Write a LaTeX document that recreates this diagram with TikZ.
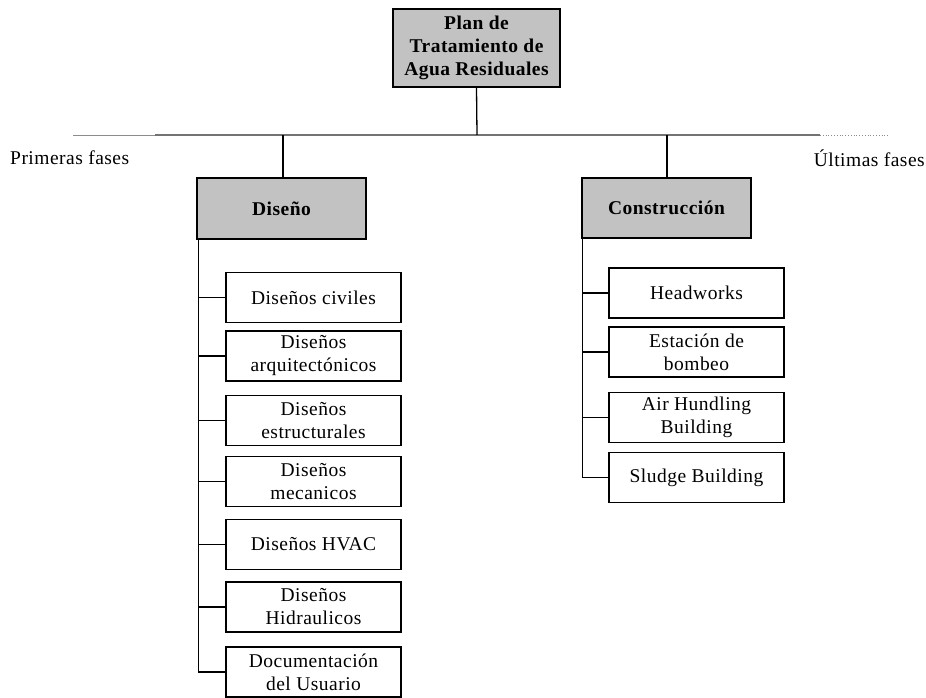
\documentclass[tikz,border=0pt]{standalone}
\usepackage{fontspec}
\setmainfont[LetterSpace=2.5]{Liberation Serif}
\begin{document}
\begin{tikzpicture}[x=1pt,y=-1pt,
  every node/.style={font=\fontsize{19.5}{23}\selectfont, inner sep=0pt, align=center},
  headbox/.style={draw=black, line width=1.3pt, fill=black!24, font=\fontsize{19.5}{23}\selectfont\bfseries},
  itembox/.style={draw=black, line width=1.3pt, fill=white, minimum width=175pt, minimum height=50pt},
  link/.style={draw=black, line width=1.3pt},
  phaseline/.style={draw=black!55, line width=2.2pt}
]
\useasboundingbox (0,0) rectangle (926,698);

% root of the breakdown
\node[headbox, minimum width=167pt, minimum height=78pt] (plan) at (476.5,48) {Plan de\\Tratamiento de\\Agua Residuales};

% phase axis
\coordinate (axl) at (73,135);
\coordinate (axa) at (155,135);
\coordinate (axroot) at (477,135);
\coordinate (axdis) at (283,135);
\coordinate (axcon) at (667,135);
\coordinate (axb) at (820,135);
\coordinate (axr) at (888,135);
\draw[draw=black!45, line width=0.7pt] (axl) -- (axa);
\draw[phaseline] (axa) -- (axb);
\draw[draw=black!45, line width=0.8pt, dotted] (axb) -- (axr);
\node[anchor=west] (early) at (10,158) {Primeras fases};
\node[anchor=east] (late) at (925,158) {Últimas fases};

\draw[link] (plan.south) -- (axroot);

% second level
\node[headbox, minimum width=169pt, minimum height=61pt] (dis) at (281.5,208.5) {Diseño};
\node[headbox, minimum width=169pt, minimum height=60pt] (con) at (666.5,208) {Construcción};
\draw[link] (axdis) -- (axdis |- dis.north);
\draw[link] (axcon) -- (axcon |- con.north);

% design work packages
\node[itembox] (d1) at (313.5,297.5) {Diseños civiles};
\node[itembox] (d2) at (313.5,356) {Diseños\\arquitectónicos};
\node[itembox] (d3) at (313.5,420.5) {Diseños\\estructurales};
\node[itembox] (d4) at (313.5,481.5) {Diseños\\mecanicos};
\node[itembox] (d5) at (313.5,544.5) {Diseños HVAC};
\node[itembox] (d6) at (313.5,607) {Diseños\\Hidraulicos};
\node[itembox] (d7) at (313.5,672) {Documentación\\del Usuario};
\foreach \k in {1,...,7} {
  \draw[link] ([xshift=2pt]dis.south west) |- (d\k.west);
}

% construction work packages
\node[itembox] (c1) at (696.5,293) {Headworks};
\node[itembox] (c2) at (696.5,352) {Estación de\\bombeo};
\node[itembox] (c3) at (696.5,417.5) {Air Hundling\\Building};
\node[itembox] (c4) at (696.5,477.5) {Sludge Building};
\foreach \k in {1,...,4} {
  \draw[link] ([xshift=1pt]con.south west) |- (c\k.west);
}
\end{tikzpicture}
\end{document}
